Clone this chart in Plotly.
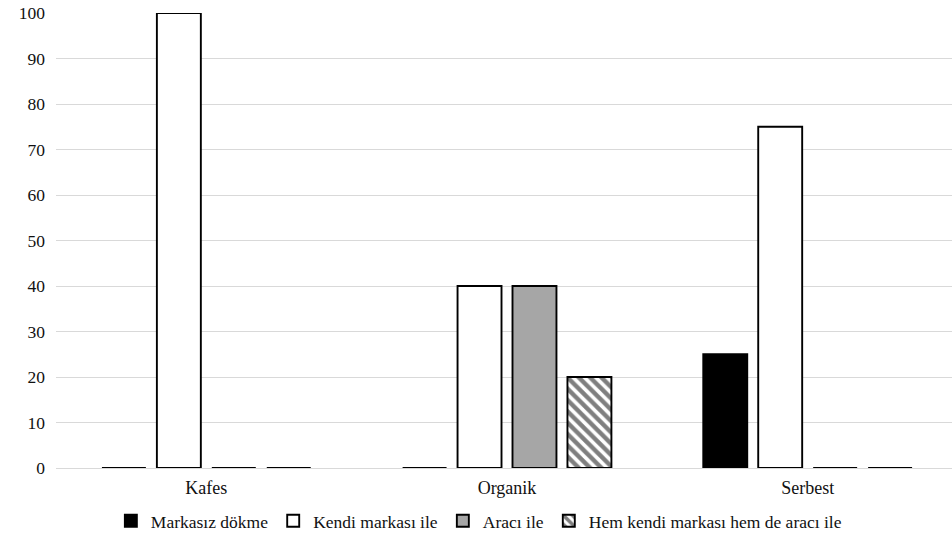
import plotly.graph_objects as go

# Share of producers (%) by sales channel, per production system
categories = ["Kafes", "Organik", "Serbest"]
series_names = [
    "Markasız dökme",
    "Kendi markası ile",
    "Aracı ile",
    "Hem kendi markası hem de aracı ile",
]
markasiz_dokme = [0, 0, 25]
kendi_markasi = [100, 40, 75]
araci_ile = [0, 40, 0]
hem_kendi_hem_araci = [0, 20, 0]

y_ticks = [0, 10, 20, 30, 40, 50, 60, 70, 80, 90, 100]

FONT = "Liberation Serif"
TEXT = "#111111"
EDGE = dict(color="#000000", width=1.9)

fig = go.Figure()
fig.add_trace(go.Bar(
    name=series_names[0], x=categories, y=markasiz_dokme,
    marker=dict(color="#000000", line=EDGE),
))
fig.add_trace(go.Bar(
    name=series_names[1], x=categories, y=kendi_markasi,
    marker=dict(color="#ffffff", line=EDGE),
))
fig.add_trace(go.Bar(
    name=series_names[2], x=categories, y=araci_ile,
    marker=dict(color="#a6a6a6", line=EDGE),
))
fig.add_trace(go.Bar(
    name=series_names[3], x=categories, y=hem_kendi_hem_araci,
    marker=dict(
        color="#ffffff", line=EDGE,
        pattern=dict(shape="\\", fgcolor="#000000", bgcolor="#ffffff",
                     size=8, solidity=0.55),
    ),
))

fig.update_layout(
    width=952, height=542,
    margin=dict(l=56, r=0, t=13, b=74),
    paper_bgcolor="#ffffff", plot_bgcolor="#ffffff",
    font=dict(family=FONT, size=18, color=TEXT),
    barmode="group", bargap=0.269, bargroupgap=0.2,
    showlegend=True,
    legend=dict(
        orientation="h", xref="container", yref="container",
        x=0.503, xanchor="center", y=0.039, yanchor="middle",
        font=dict(family=FONT, size=17.5, color=TEXT),
        bgcolor="rgba(0,0,0,0)", itemwidth=30,
        traceorder="normal",
    ),
    xaxis=dict(
        type="category", range=[-0.5, 2.48],
        showgrid=False, showline=False, zeroline=False, ticks="",
        tickfont=dict(family=FONT, size=18, color=TEXT),
        ticklabelstandoff=7,
    ),
    yaxis=dict(
        range=[0, 100], tickvals=y_ticks,
        showgrid=True, gridcolor="#d9d9d9", gridwidth=1.3,
        zeroline=True, zerolinecolor="#d9d9d9", zerolinewidth=1.3,
        showline=False, ticks="",
        tickfont=dict(family=FONT, size=17.5, color=TEXT),
        ticklabelstandoff=10,
    ),
)

fig.write_html("out.html")
